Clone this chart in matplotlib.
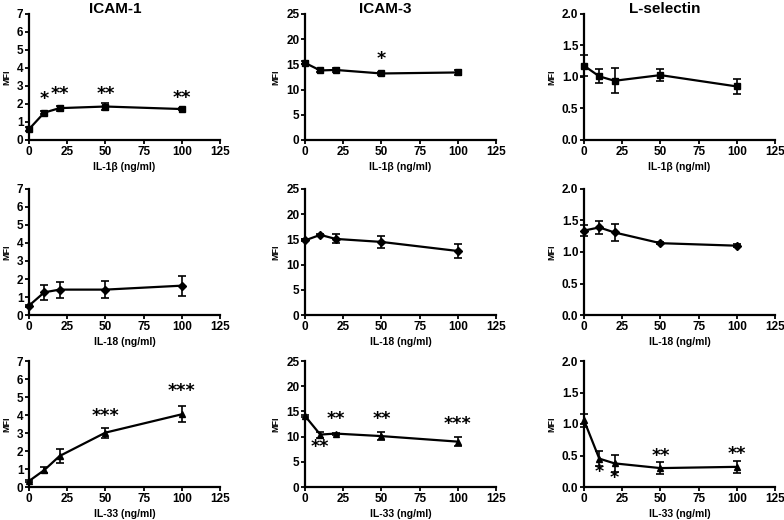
import numpy as np
import matplotlib
matplotlib.use('Agg')
import matplotlib.pyplot as plt

plt.rcParams['font.family'] = ['Liberation Sans', 'DejaVu Sans']
plt.rcParams['font.weight'] = 'bold'

# Doses (ng/ml)
dose = [0, 10, 20, 50, 100]

titles = ['ICAM-1', 'ICAM-3', 'L-selectin']
xlabels = ['IL-1\u03b2 (ng/ml)', 'IL-18 (ng/ml)', 'IL-33 (ng/ml)']
ymax = [7, 25, 2.0]
yticks = [[0, 1, 2, 3, 4, 5, 6, 7],
          [0, 5, 10, 15, 20, 25],
          [0.0, 0.5, 1.0, 1.5, 2.0]]
ytick_labels = [['0', '1', '2', '3', '4', '5', '6', '7'],
                ['0', '5', '10', '15', '20', '25'],
                ['0.0', '0.5', '1.0', '1.5', '2.0']]
markers = ['s', 'D', '^']

# IL-1beta row
icam1_il1b = [0.6, 1.52, 1.77, 1.86, 1.72]
icam1_il1b_err = [0.1, 0.08, 0.14, 0.2, 0.05]
icam3_il1b = [15.3, 13.8, 13.9, 13.2, 13.4]
icam3_il1b_err = [0.3, 0.3, 0.4, 0.3, 0.5]
lsel_il1b = [1.18, 1.01, 0.94, 1.03, 0.85]
lsel_il1b_err = [0.17, 0.11, 0.2, 0.1, 0.12]

# IL-18 row
icam1_il18 = [0.52, 1.26, 1.41, 1.41, 1.63]
icam1_il18_err = [0.05, 0.4, 0.45, 0.46, 0.56]
icam3_il18 = [14.8, 15.9, 15.1, 14.5, 12.7]
icam3_il18_err = [0.2, 0.2, 0.9, 1.25, 1.45]
lsel_il18 = [1.34, 1.39, 1.31, 1.14, 1.10]
lsel_il18_err = [0.09, 0.1, 0.13, 0.02, 0.02]

# IL-33 row
icam1_il33 = [0.33, 0.94, 1.72, 3.02, 4.04]
icam1_il33_err = [0.05, 0.15, 0.39, 0.28, 0.45]
icam3_il33 = [14.1, 10.4, 10.6, 10.1, 9.0]
icam3_il33_err = [0.2, 0.6, 0.2, 0.8, 0.9]
lsel_il33 = [1.06, 0.45, 0.375, 0.30, 0.32]
lsel_il33_err = [0.1, 0.12, 0.14, 0.095, 0.1]

values = [[icam1_il1b, icam3_il1b, lsel_il1b],
          [icam1_il18, icam3_il18, lsel_il18],
          [icam1_il33, icam3_il33, lsel_il33]]
errors = [[icam1_il1b_err, icam3_il1b_err, lsel_il1b_err],
          [icam1_il18_err, icam3_il18_err, lsel_il18_err],
          [icam1_il33_err, icam3_il33_err, lsel_il33_err]]

# significance stars: (row, col, dose, y, label)
stars = [(0, 0, 10, 2.25, '*'), (0, 0, 20, 2.55, '**'), (0, 0, 50, 2.55, '**'),
         (0, 0, 100, 2.35, '**'), (0, 1, 50, 16.0, '*'),
         (2, 0, 50, 3.95, '***'), (2, 0, 100, 5.35, '***'),
         (2, 1, 10, 7.9, '**'), (2, 1, 20, 13.4, '**'), (2, 1, 50, 13.4, '**'),
         (2, 1, 100, 12.5, '***'),
         (2, 2, 10, 0.24, '*'), (2, 2, 20, 0.15, '*'), (2, 2, 50, 0.49, '**'),
         (2, 2, 100, 0.53, '**')]

fig = plt.figure(figsize=(7.84, 5.2), dpi=100)

lefts = [29 / 784, 305 / 784, 584 / 784]
bottoms = [1 - 140 / 520, 1 - 315 / 520, 1 - 487 / 520]
w = 191 / 784
h = 126 / 520
title_x = [0.45, 0.42, 0.424]

axes = {}
for r in range(3):
    for c in range(3):
        ax = fig.add_axes([lefts[c], bottoms[r], w, h])
        axes[(r, c)] = ax
        ax.errorbar(dose, values[r][c], yerr=errors[r][c], color='black',
                    marker=markers[r], markersize=4 if r != 0 else 5,
                    linewidth=1.6, elinewidth=1.2, capsize=3, capthick=1.2,
                    clip_on=False, zorder=3)
        ax.set_xlim(0, 125)
        ax.set_ylim(0, ymax[c])
        ax.set_xticks([0, 25, 50, 75, 100, 125])
        ax.set_yticks(yticks[c])
        ax.set_yticklabels(ytick_labels[c])
        for s in ['top', 'right']:
            ax.spines[s].set_visible(False)
        for s in ['left', 'bottom']:
            ax.spines[s].set_linewidth(1.6)
        ax.tick_params(direction='out', length=3, width=1.3, labelsize=8.5,
                       pad=1)
        for lab in ax.get_xticklabels() + ax.get_yticklabels():
            lab.set_fontweight('bold')
        ax.set_xlabel(xlabels[r], fontsize=7.5, fontweight='bold', labelpad=3.5)
        ax.set_ylabel('MFI', fontsize=6.5, fontweight='bold', labelpad=4)
        if r == 0:
            ax.text(title_x[c], 1.008, titles[c], transform=ax.transAxes,
                    ha='center', va='baseline', fontsize=11,
                    fontweight='bold')

for r, c, x, y, lab in stars:
    axes[(r, c)].text(x, y, lab, ha='center', va='center', fontsize=12.5,
                      fontweight='bold', family='DejaVu Sans')

fig.savefig('out.png', dpi=100)
